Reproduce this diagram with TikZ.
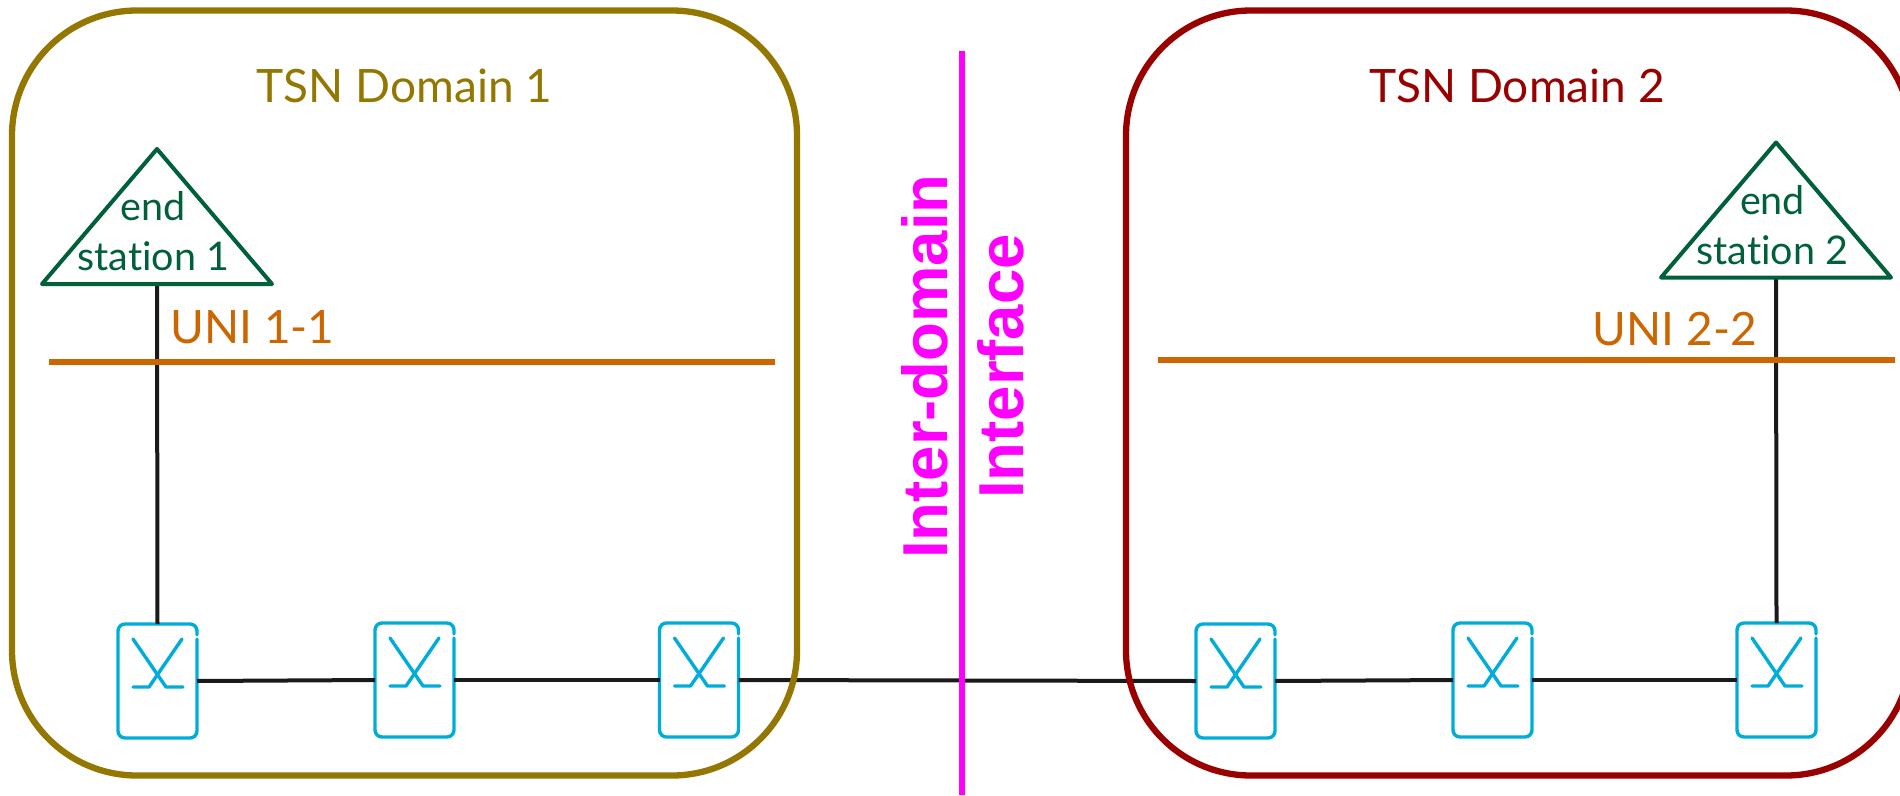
\documentclass[tikz,border=0pt]{standalone}
\usepackage{fontspec}
\setmainfont[Ligatures=NoCommon]{Lato}
\newfontfamily\arialbold{Liberation Sans Bold}
\definecolor{domA}{HTML}{937700}
\definecolor{domB}{HTML}{990000}
\definecolor{uni}{HTML}{CC6600}
\definecolor{mag}{HTML}{FF00FF}
\definecolor{endst}{HTML}{006039}
\definecolor{sw}{HTML}{00ADD8}
\definecolor{wire}{HTML}{1A1A1A}
\tikzset{
  domainbox/.style={draw=#1,line width=6.3pt,rounded corners=125pt,minimum width=785pt,minimum height=765pt,outer sep=0pt,inner sep=0pt},
  domainlabel/.style={text=#1,font=\fontsize{46}{46}\selectfont,anchor=base,inner sep=0pt},
  unilabel/.style={text=uni,font=\fontsize{46}{46}\selectfont,anchor=base,inner sep=0pt},
  endbox/.style={minimum width=230pt,minimum height=135pt,outer sep=0pt,inner sep=0pt},
  endlabel/.style={text=endst,font=\fontsize{39.5}{50}\selectfont,align=center,anchor=center,inner sep=0pt},
  endshape/.style={draw=endst,line width=4pt,line join=round},
  switchnode/.style={minimum width=79pt,minimum height=114pt,outer sep=0pt,inner sep=0pt},
  switchline/.style={draw=sw,line width=3.4pt,line cap=round},
  link/.style={draw=wire,line width=4pt},
  uniline/.style={draw=uni,line width=6pt},
  interlabel/.style={text=mag,font=\arialbold\fontsize{63.5}{64}\selectfont,rotate=90,anchor=base west,inner sep=0pt},
}
\newcommand{\swbox}[3]{%
  \node[switchnode] (#1) at (#2,#3) {};
  \begin{scope}[shift={(#1.north west)}]
    \draw[switchline,rounded corners=7pt] (79,15) -- (79,114) -- (0,114) -- (0,0) -- (79,0) -- (79,11);
    \draw[switchline,line join=round] (15,15) -- (48,63) -- (65,63);
    \draw[switchline,line join=round] (64,15) -- (31,63) -- (15,63);
  \end{scope}}
\begin{document}
\begin{tikzpicture}[x=1pt,y=-1pt]
\useasboundingbox (0,0) rectangle (1900,795);
\clip (0,0) rectangle (1900,795);
\fill[white] (0,0) rectangle (1900,795);
% end stations
\node[endbox] (t1) at (157,216.5) {};
\node[endbox] (t2) at (1776,210) {};
% switches
\swbox{s1}{157.5}{681}
\swbox{s2}{414.5}{680}
\swbox{s3}{699}{680}
\swbox{s4}{1235.5}{681}
\swbox{s5}{1492.5}{680}
\swbox{s6}{1776.5}{680}
% links
\draw[link] (t1.south) -- (s1.north);
\draw[link] (t2.south) -- (s6.north);
\draw[link] (s1.east) -- (s2.west);
\draw[link] (s2.east) -- (s3.west);
\draw[link] (s3.east) -- (s4.west);
\draw[link] (s4.east) -- (s5.west);
\draw[link] (s5.east) -- (s6.west);
\draw[endshape] (t1.south west) -- (t1.north) -- (t1.south east) -- cycle;
\draw[endshape] (t2.south west) -- (t2.north) -- (t2.south east) -- cycle;
\node[endlabel] (t1l) at (153.5,231) {end\\station 1};
\node[endlabel] (t2l) at (1772.5,225) {end\\station 2};
% domains
\node[domainbox=domA] (d1) at (404.5,393) {};
\node[domainbox=domB] (d2) at (1518.5,393) {};
\node[domainlabel=domA] (d1t) at (404.5,102) {TSN Domain 1};
\node[domainlabel=domB] (d2t) at (1517,102) {TSN Domain 2};
% UNI
\coordinate (u1a) at (49,362);
\coordinate (u1b) at (775,362);
\coordinate (u2a) at (1158,360);
\coordinate (u2b) at (1895,360);
\draw[uniline] (u1a) -- (u1b);
\draw[uniline] (u2a) -- (u2b);
\node[unilabel] (u1t) at (252.5,343) {UNI 1-1};
\node[unilabel] (u2t) at (1675,345) {UNI 2-2};
% interface
\coordinate (ia) at (962,51);
\coordinate (ib) at (962,795);
\draw[draw=mag,line width=6pt] (ia) -- (ib);
\node[interlabel] (i1) at (947,559) {Inter-domain};
\node[interlabel] (i2) at (1023,499) {Interface};
\end{tikzpicture}
\end{document}
